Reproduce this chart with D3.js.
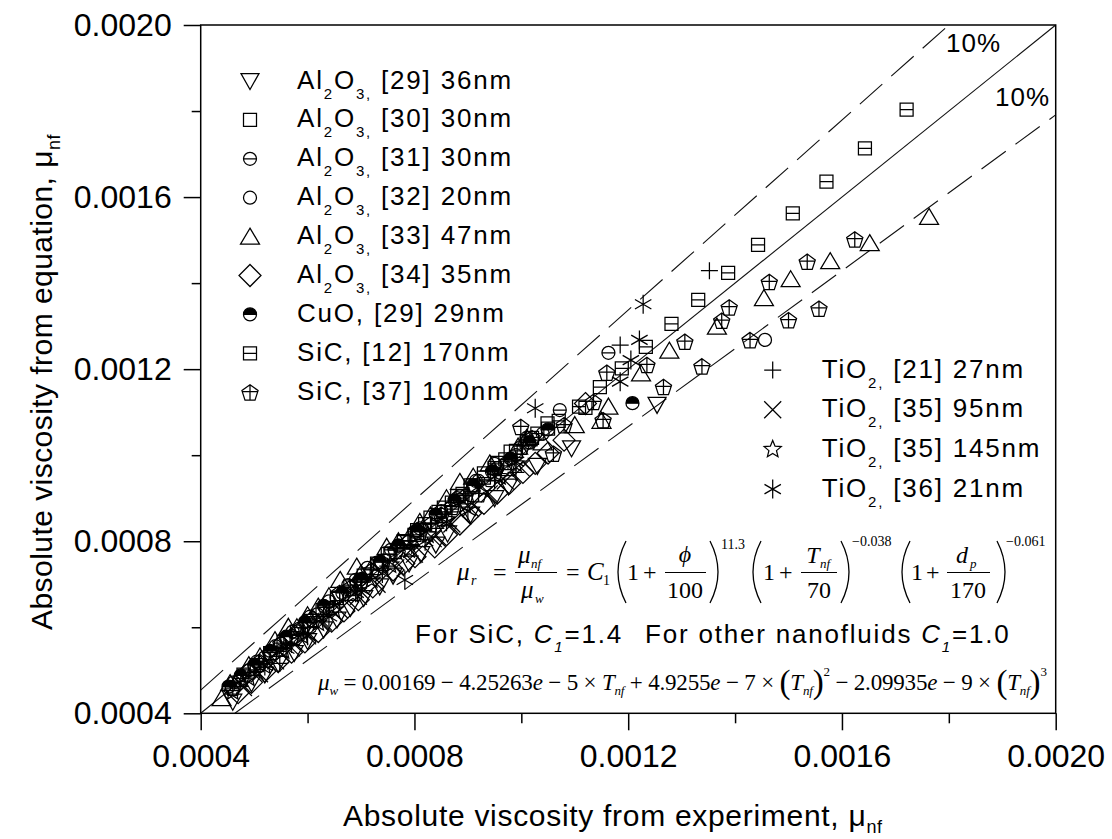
<!DOCTYPE html>
<html><head><meta charset="utf-8">
<script src="https://cdn.jsdelivr.net/npm/d3@7"></script>
<style>
html,body{margin:0;padding:0;background:#fff;}
svg{display:block;}
</style></head>
<body>
<script>
// ---------------- DATA ----------------
const xDomain = [0.0004, 0.0020];
const yDomain = [0.0004, 0.0020];
const majorTicks = [0.0004, 0.0008, 0.0012, 0.0016, 0.0020];
const minorTicks = [0.0006, 0.0010, 0.0014, 0.0018];
const tickLabels = ["0.0004", "0.0008", "0.0012", "0.0016", "0.0020"];

// reference lines: parity and +/-10 %
const lineParity = [[0.0004, 0.0004], [0.0020, 0.0020]];
const lineUpper10 = [[0.0004, 0.000454], [0.00180, 0.0020]];
const lineLower10 = [[0.000464, 0.0004], [0.0020, 0.001791]];

const al29 = [[0.000460,0.000427],[0.000495,0.000470],[0.000520,0.000490],[0.000545,0.000515],[0.000575,0.000540],[0.000600,0.000568],[0.000630,0.000595],[0.000655,0.000618],[0.000680,0.000645],[0.000705,0.000668],[0.000735,0.000695],[0.000760,0.000720],[0.000790,0.000748],[0.000812,0.000770],[0.000840,0.000792],[0.000862,0.000818],[0.000905,0.000862],[0.000950,0.000900],[0.000976,0.000927],[0.001030,0.000975],[0.001094,0.001016],[0.001254,0.001117]];
const al30 = [[0.000480,0.000490],[0.000505,0.000512],[0.000530,0.000540],[0.000555,0.000566],[0.000580,0.000590],[0.000605,0.000615],[0.000628,0.000640],[0.000655,0.000668],[0.000680,0.000695],[0.000705,0.000720],[0.000730,0.000748],[0.000755,0.000772],[0.000780,0.000798],[0.000805,0.000826],[0.000830,0.000855],[0.000855,0.000878],[0.000880,0.000905],[0.000905,0.000930],[0.000930,0.000958],[0.000955,0.000982],[0.000980,0.001008],[0.001020,0.001040],[0.001049,0.001074],[0.001120,0.001110]];
const al31 = [[0.000462,0.000472],[0.000505,0.000520],[0.000540,0.000556],[0.000572,0.000590],[0.000605,0.000625],[0.000640,0.000660],[0.000676,0.000698],[0.000712,0.000738],[0.000756,0.000780],[0.000800,0.000822],[0.000840,0.000862],[0.000880,0.000900],[0.000915,0.000940],[0.000950,0.000980],[0.001010,0.001040],[0.001072,0.001105],[0.001163,0.001238]];
const al32 = [[0.000490,0.000500],[0.000520,0.000530],[0.000550,0.000562],[0.000584,0.000596],[0.000618,0.000630],[0.000654,0.000670],[0.000690,0.000710],[0.000730,0.000750],[0.000770,0.000790],[0.000810,0.000830],[0.000850,0.000870],[0.000885,0.000905],[0.000920,0.000940],[0.000955,0.000970],[0.000990,0.001000],[0.001040,0.001050],[0.001456,0.001268]];
const al33 = [[0.000439,0.000435],[0.000455,0.000470],[0.000470,0.000480],[0.000490,0.000512],[0.000511,0.000532],[0.000539,0.000570],[0.000564,0.000601],[0.000580,0.000600],[0.000600,0.000628],[0.000620,0.000648],[0.000640,0.000672],[0.000661,0.000710],[0.000692,0.000741],[0.000700,0.000725],[0.000720,0.000740],[0.000748,0.000787],[0.000770,0.000800],[0.000790,0.000810],[0.000810,0.000845],[0.000830,0.000860],[0.000860,0.000900],[0.000885,0.000938],[0.000910,0.000950],[0.000941,0.000981],[0.000970,0.000970],[0.000994,0.001020],[0.001010,0.001040],[0.001040,0.001030],[0.001100,0.001070],[0.001150,0.001080],[0.001163,0.001113],[0.001224,0.001190],[0.001277,0.001243],[0.001366,0.001299],[0.001454,0.001365],[0.001504,0.001409],[0.001578,0.001451],[0.001652,0.001493],[0.001763,0.001554]];
const al34 = [[0.000470,0.000448],[0.000495,0.000472],[0.000520,0.000498],[0.000545,0.000520],[0.000570,0.000542],[0.000595,0.000566],[0.000620,0.000590],[0.000645,0.000614],[0.000668,0.000638],[0.000695,0.000664],[0.000722,0.000694],[0.000760,0.000733],[0.000780,0.000748],[0.000801,0.000764],[0.000838,0.000787],[0.000860,0.000815],[0.000885,0.000840],[0.000905,0.000865],[0.000930,0.000888],[0.000955,0.000912],[0.000978,0.000935],[0.001003,0.000960],[0.001026,0.000981],[0.001050,0.001005],[0.001080,0.001035],[0.001120,0.001120]];
const cuo29 = [[0.000452,0.000462],[0.000475,0.000488],[0.000500,0.000512],[0.000530,0.000545],[0.000560,0.000578],[0.000595,0.000612],[0.000630,0.000650],[0.000665,0.000680],[0.000700,0.000712],[0.000735,0.000752],[0.000770,0.000790],[0.000805,0.000825],[0.000840,0.000862],[0.000875,0.000895],[0.000910,0.000930],[0.000945,0.000962],[0.000980,0.000992],[0.001015,0.001030],[0.001050,0.001060],[0.001208,0.001121]];
const sic12 = [[0.000750,0.000770],[0.000780,0.000800],[0.000800,0.000815],[0.000820,0.000840],[0.000845,0.000868],[0.000870,0.000890],[0.000890,0.000910],[0.000910,0.000930],[0.000930,0.000948],[0.000950,0.000970],[0.000970,0.000990],[0.000990,0.001010],[0.001010,0.001030],[0.001030,0.001050],[0.001050,0.001062],[0.001070,0.001080],[0.001108,0.001113],[0.001147,0.001158],[0.001188,0.001202],[0.001233,0.001252],[0.001281,0.001305],[0.001331,0.001361],[0.001387,0.001424],[0.001443,0.001489],[0.001508,0.001562],[0.001571,0.001636],[0.001643,0.001713],[0.001721,0.001803]];
const sic37 = [[0.000460,0.000460],[0.000475,0.000480],[0.000490,0.000500],[0.000510,0.000520],[0.000530,0.000540],[0.000550,0.000562],[0.000570,0.000580],[0.000590,0.000598],[0.000610,0.000620],[0.000635,0.000645],[0.000660,0.000680],[0.000680,0.000692],[0.000700,0.000710],[0.000720,0.000732],[0.000740,0.000750],[0.000765,0.000778],[0.000790,0.000800],[0.000810,0.000822],[0.000830,0.000840],[0.000850,0.000862],[0.000870,0.000880],[0.000895,0.000905],[0.000920,0.000910],[0.000950,0.000960],[0.000975,0.000985],[0.000999,0.001066],[0.001000,0.001020],[0.001020,0.001040],[0.001060,0.001004],[0.001080,0.001070],[0.001135,0.001124],[0.001153,0.001082],[0.001160,0.001192],[0.001235,0.001210],[0.001266,0.001159],[0.001306,0.001264],[0.001338,0.001207],[0.001375,0.001313],[0.001389,0.001344],[0.001428,0.001268],[0.001464,0.001403],[0.001500,0.001314],[0.001535,0.001450],[0.001557,0.001341],[0.001624,0.001502]];
const tio21 = [[0.000548,0.000516],[0.000570,0.000560],[0.000600,0.000600],[0.000630,0.000630],[0.000660,0.000662],[0.000700,0.000705],[0.000750,0.000742],[0.000795,0.000790],[0.000840,0.000830],[0.000870,0.000868],[0.000900,0.000910],[0.000950,0.000940],[0.000990,0.000960],[0.001185,0.001256],[0.001352,0.001429]];
const tio35a = [[0.000480,0.000460],[0.000510,0.000492],[0.000540,0.000522],[0.000570,0.000552],[0.000600,0.000580],[0.000630,0.000612],[0.000660,0.000640],[0.000695,0.000672],[0.000730,0.000700],[0.000765,0.000738],[0.000800,0.000770],[0.000835,0.000806],[0.000870,0.000840],[0.000905,0.000876],[0.000940,0.000910],[0.000970,0.000940],[0.001000,0.000970]];
const tio35b = [[0.000460,0.000450],[0.000490,0.000482],[0.000520,0.000510],[0.000555,0.000545],[0.000590,0.000580],[0.000620,0.000610],[0.000650,0.000640],[0.000685,0.000676],[0.000720,0.000710],[0.000755,0.000745],[0.000790,0.000780],[0.000825,0.000815],[0.000860,0.000850],[0.000895,0.000885],[0.000930,0.000920],[0.000960,0.000950],[0.000990,0.000980]];
const tio36 = [[0.000520,0.000510],[0.000560,0.000550],[0.000600,0.000580],[0.000640,0.000625],[0.000690,0.000680],[0.000701,0.000687],[0.000740,0.000725],[0.000782,0.000710],[0.000820,0.000800],[0.000860,0.000845],[0.000900,0.000870],[0.000950,0.000950],[0.000990,0.000985],[0.001026,0.001109],[0.001185,0.001171],[0.001205,0.001221],[0.001221,0.001268],[0.001228,0.001351]];

const legendLeftNames = [
  [{t:"Al"},{t:"2",sub:1},{t:"O"},{t:"3,",sub:1},{t:" [29] 36nm"}],
  [{t:"Al"},{t:"2",sub:1},{t:"O"},{t:"3,",sub:1},{t:" [30] 30nm"}],
  [{t:"Al"},{t:"2",sub:1},{t:"O"},{t:"3,",sub:1},{t:" [31] 30nm"}],
  [{t:"Al"},{t:"2",sub:1},{t:"O"},{t:"3,",sub:1},{t:" [32] 20nm"}],
  [{t:"Al"},{t:"2",sub:1},{t:"O"},{t:"3,",sub:1},{t:" [33] 47nm"}],
  [{t:"Al"},{t:"2",sub:1},{t:"O"},{t:"3,",sub:1},{t:" [34] 35nm"}],
  [{t:"CuO, [29] 29nm"}],
  [{t:"SiC, [12] 170nm"}],
  [{t:"SiC, [37] 100nm"}]
];
const legendRightNames = [
  [{t:"TiO"},{t:"2,",sub:1},{t:" [21] 27nm"}],
  [{t:"TiO"},{t:"2,",sub:1},{t:" [35] 95nm"}],
  [{t:"TiO"},{t:"2,",sub:1},{t:" [35] 145nm"}],
  [{t:"TiO"},{t:"2,",sub:1},{t:" [36] 21nm"}]
];

const seriesLeft = [
  {data: al29, shape: "tridown"}, {data: al30, shape: "square"}, {data: al31, shape: "circlebar"},
  {data: al32, shape: "circle"}, {data: al33, shape: "triup"}, {data: al34, shape: "diamond"},
  {data: cuo29, shape: "cuo"}, {data: sic12, shape: "sqbar"}, {data: sic37, shape: "pentcross"}
];
const seriesRight = [
  {data: tio21, shape: "plus"}, {data: tio35a, shape: "cross"}, {data: tio35b, shape: "star"}, {data: tio36, shape: "asterisk"}
];

// ---------------- DRAW ----------------
const W = 1112, H = 839;
const SANS = "'Liberation Sans', Arial, sans-serif";
const SERIF = "'Liberation Serif', 'Times New Roman', serif";
const svg = d3.select("body").append("svg").attr("width", W).attr("height", H)
  .style("background", "#fff");

const x = d3.scaleLinear().domain(xDomain).range([200.7, 1055.7]);
const y = d3.scaleLinear().domain(yDomain).range([713.3, 25]);

// shapes
function circ(r){return `M${r},0A${r},${r} 0 1,1 ${-r},0A${r},${r} 0 1,1 ${r},0Z`;}
function starPath(R, r){let s="";for(let i=0;i<10;i++){const a=-Math.PI/2+i*Math.PI/5;const rr=i%2?r:R;s+=(i?"L":"M")+(rr*Math.cos(a)).toFixed(2)+","+(rr*Math.sin(a)).toFixed(2);}return s+"Z";}
function pentPath(R){let s="";for(let i=0;i<5;i++){const a=-Math.PI/2+i*2*Math.PI/5;s+=(i?"L":"M")+(R*Math.cos(a)).toFixed(2)+","+(R*Math.sin(a)+1).toFixed(2);}return s+"Z";}
const shapes = {
  tridown: "M-9,-7.5L9,-7.5L0,8.5Z",
  square: "M-6.5,-6.5H6.5V6.5H-6.5Z",
  circlebar: circ(6.5) + "M-6.5,0H6.5",
  circle: circ(6.5),
  triup: "M0,-8.5L9.5,7.5L-9.5,7.5Z",
  diamond: "M0,-11L11,0L0,11L-11,0Z",
  cuo: circ(6.5) + "M-6.5,0H6.5",
  sqbar: "M-6.5,-6.5H6.5V6.5H-6.5ZM-6.5,0H6.5",
  pentcross: pentPath(8.5) + "M0,-7.5V7.9M-8.1,-0.5H8.1",
  plus: "M-8.5,0H8.5M0,-8.5V8.5",
  cross: "M-8.5,-8.5L8.5,8.5M-8.5,8.5L8.5,-8.5",
  star: starPath(9, 4),
  asterisk: "M0,-9.5V9.5M-8.2,-4.75L8.2,4.75M-8.2,4.75L8.2,-4.75"
};
function drawMarker(g, shape) {
  g.append("path").attr("d", shapes[shape]).attr("fill", "none")
    .attr("stroke", "#000").attr("stroke-width", 1.25);
  if (shape === "cuo") g.append("path").attr("d", "M-6.5,0A6.5,6.5 0 0,1 6.5,0Z").attr("fill", "#000");
}

// reference lines
const lineGen = d3.line().x(d => x(d[0])).y(d => y(d[1]));
svg.append("path").attr("d", lineGen(lineParity)).attr("stroke", "#111").attr("stroke-width", 1.1).attr("fill", "none");
svg.append("path").attr("d", lineGen(lineUpper10)).attr("stroke", "#111").attr("stroke-width", 1.1).attr("fill", "none").attr("stroke-dasharray", "30,12");
svg.append("path").attr("d", lineGen(lineLower10)).attr("stroke", "#111").attr("stroke-width", 1.1).attr("fill", "none").attr("stroke-dasharray", "30,12");

// data markers
const allSeries = seriesLeft.concat(seriesRight);
allSeries.forEach(s => {
  const g = svg.append("g");
  g.selectAll("g").data(s.data).join("g")
    .attr("transform", d => `translate(${x(d[0])},${y(d[1])})`)
    .each(function(){ drawMarker(d3.select(this), s.shape); });
});

// frame
svg.append("rect").attr("x", x(xDomain[0])).attr("y", y(yDomain[1]))
  .attr("width", x(xDomain[1]) - x(xDomain[0])).attr("height", y(yDomain[0]) - y(yDomain[1]))
  .attr("fill", "none").attr("stroke", "#000").attr("stroke-width", 1.5);

// axes
function styleAxis(g){
  g.select(".domain").remove();
  g.selectAll("line").attr("stroke", "#000").attr("stroke-width", 1.5);
  g.selectAll("text").attr("font-family", SANS).attr("font-size", 32).attr("fill", "#000");
}
svg.append("g").attr("transform", `translate(0,${y(yDomain[0])})`)
  .call(d3.axisBottom(x).tickValues(majorTicks).tickSize(17).tickPadding(14).tickFormat((d,i) => tickLabels[i]))
  .call(styleAxis);
svg.append("g").attr("transform", `translate(0,${y(yDomain[0])})`)
  .call(d3.axisBottom(x).tickValues(minorTicks).tickSize(10).tickFormat(""))
  .call(styleAxis);
svg.append("g").attr("transform", `translate(${x(xDomain[0])},0)`)
  .call(d3.axisLeft(y).tickValues(majorTicks).tickSize(17).tickPadding(12).tickFormat((d,i) => tickLabels[i]))
  .call(styleAxis);
svg.append("g").attr("transform", `translate(${x(xDomain[0])},0)`)
  .call(d3.axisLeft(y).tickValues(minorTicks).tickSize(9).tickFormat(""))
  .call(styleAxis);

// rich text helper
function rich(t, parts, o) {
  let cur = 0;
  parts.forEach(p => {
    const off = p.sub ? o.subDy : (p.sup ? o.supDy : (p.big ? (o.bigDy || 0) : 0));
    const ts = t.append("tspan").attr("dy", off - cur).text(p.t);
    cur = off;
    if (p.sub || p.sup) ts.attr("font-size", o.subSize);
    if (p.big) ts.attr("font-size", o.bigSize);
    if (p.it) ts.attr("font-style", "italic");
  });
}

// axis titles
const xt = svg.append("text").attr("x", 343).attr("y", 826)
  .attr("font-family", SANS).attr("font-size", 30).attr("letter-spacing", 0.7);
rich(xt, [{t:"Absolute viscosity from experiment, "},{t:"μ"},{t:"nf",sub:1}], {subDy: 7, subSize: 18});
const yt = svg.append("text").attr("transform", "translate(52,630) rotate(-90)")
  .attr("font-family", SANS).attr("font-size", 30).attr("letter-spacing", 0.45);
rich(yt, [{t:"Absolute viscosity from equation, "},{t:"μ"},{t:"nf",sub:1}], {subDy: 8, subSize: 18});

// legends
function legend(series, names, mx, tx, y0, dy) {
  series.forEach((s, i) => {
    const cy = y0 + i * dy;
    const g = svg.append("g").attr("transform", `translate(${mx},${cy})`);
    drawMarker(g, s.shape);
    const t = svg.append("text").attr("x", tx).attr("y", cy + 7.5)
      .attr("font-family", SANS).attr("font-size", 26).attr("letter-spacing", 1.8).attr("fill", "#000");
    rich(t, names[i], {subDy: 10, subSize: 15});
  });
}
legend(seriesLeft, legendLeftNames, 250, 297, 81, 38.9);
legend(seriesRight, legendRightNames, 772.7, 821.7, 370, 39.7);

// 10% labels
svg.append("text").attr("x", 946).attr("y", 52).attr("font-family", SANS).attr("font-size", 26).attr("letter-spacing", 1).text("10%");
svg.append("text").attr("x", 995).attr("y", 106).attr("font-family", SANS).attr("font-size", 26).attr("letter-spacing", 1).text("10%");

// ---------- equation 1 ----------
const eq = svg.append("g").attr("font-family", SERIF).attr("fill", "#000");
function et(txt, ex, ey, size, opts = {}) {
  const t = eq.append("text").attr("x", ex).attr("y", ey).attr("font-size", size).text(txt);
  if (opts.it) t.attr("font-style", "italic");
  if (opts.anchor) t.attr("text-anchor", opts.anchor);
  return t;
}
function bar(x1, x2, yy){ eq.append("line").attr("x1", x1).attr("x2", x2).attr("y1", yy).attr("y2", yy).attr("stroke", "#000").attr("stroke-width", 1.2); }
function paren(px, top, bot, left){
  const mid = (top + bot) / 2, b = left ? -8 : 8;
  const p = left ? `M${px+4},${top}Q${px+b-4},${mid} ${px+4},${bot}` : `M${px-4},${top}Q${px+b+4},${mid} ${px-4},${bot}`;
  eq.append("path").attr("d", p).attr("fill", "none").attr("stroke", "#000").attr("stroke-width", 1.3);
}
const fb = 572.5;   // fraction bar y
et("μ", 457, 580, 25, {it:1}); et("r", 471, 585, 14, {it:1});
et("=", 493, 580, 24);
et("μ", 518, 563, 25, {it:1}); et("nf", 531, 568, 13, {it:1});
bar(515, 557, fb);
et("μ", 521, 598, 25, {it:1}); et("w", 535, 603, 13, {it:1});
et("=", 566, 580, 24);
et("C", 587, 580, 25, {it:1}); et("1", 603, 585, 14);
paren(622, 541, 603, true);
et("1", 627, 580, 24); et("+", 643, 580, 24);
et("ϕ", 685, 562, 24, {it:1, anchor:"middle"});
bar(665, 706, fb);
et("100", 685, 598, 24, {anchor:"middle"});
paren(714, 541, 603, false);
et("11.3", 721, 549, 14);
paren(757, 541, 603, true);
et("1", 763, 580, 24); et("+", 779, 580, 24);
et("T", 813, 563, 24, {it:1, anchor:"middle"}); et("nf", 820, 568, 13, {it:1});
bar(801, 837, fb);
et("70", 819, 598, 24, {anchor:"middle"});
paren(845, 541, 603, false);
et("−0.038", 852, 546, 14);
paren(906, 541, 603, true);
et("1", 911, 580, 24); et("+", 926, 580, 24);
et("d", 962, 563, 24, {it:1, anchor:"middle"}); et("p", 970, 568, 13, {it:1});
bar(947, 990, fb);
et("170", 968, 598, 24, {anchor:"middle"});
paren(1001, 541, 603, false);
et("−0.061", 1006, 546, 14);

// ---------- equation 2 (sans) ----------
function st(parts, sx, sy) {
  const t = svg.append("text").attr("x", sx).attr("y", sy).attr("font-family", SANS)
    .attr("font-size", 26).attr("letter-spacing", 1.8).attr("fill", "#000");
  rich(t, parts, {subDy: 9, subSize: 15});
}
st([{t:"For SiC, "},{t:"C",it:1},{t:"1",sub:1,it:1},{t:"=1.4"}], 415, 643);
st([{t:"For other nanofluids "},{t:"C",it:1},{t:"1",sub:1,it:1},{t:"=1.0"}], 645, 643);

// ---------- equation 3 (single flowing line, fitted to its span) ----------
const e3 = eq.append("text").attr("x", 318).attr("y", 690).attr("font-size", 23);
rich(e3, [
  {t:"μ",it:1},{t:"w",sub:1,it:1},{t:" = 0.00169 − 4.25263"},{t:"e",it:1},{t:" − 5 × "},
  {t:"T",it:1},{t:"nf",sub:1,it:1},{t:" + 4.9255"},{t:"e",it:1},{t:" − 7 × "},
  {t:"(",big:1},{t:"T",it:1},{t:"nf",sub:1,it:1},{t:")",big:1},{t:"2",sup:1},
  {t:" − 2.09935"},{t:"e",it:1},{t:" − 9 × "},
  {t:"(",big:1},{t:"T",it:1},{t:"nf",sub:1,it:1},{t:")",big:1},{t:"3",sup:1}
], {subDy: 5, supDy: -14, subSize: 13, bigSize: 33, bigDy: 3});
(function fit(){
  const node = e3.node();
  const len = node.getComputedTextLength();
  const n = node.textContent.length;
  const target = 1047 - 318;
  if (n > 1) e3.attr("letter-spacing", ((target - len) / (n - 1)).toFixed(3));
})();
</script>
</body></html>
